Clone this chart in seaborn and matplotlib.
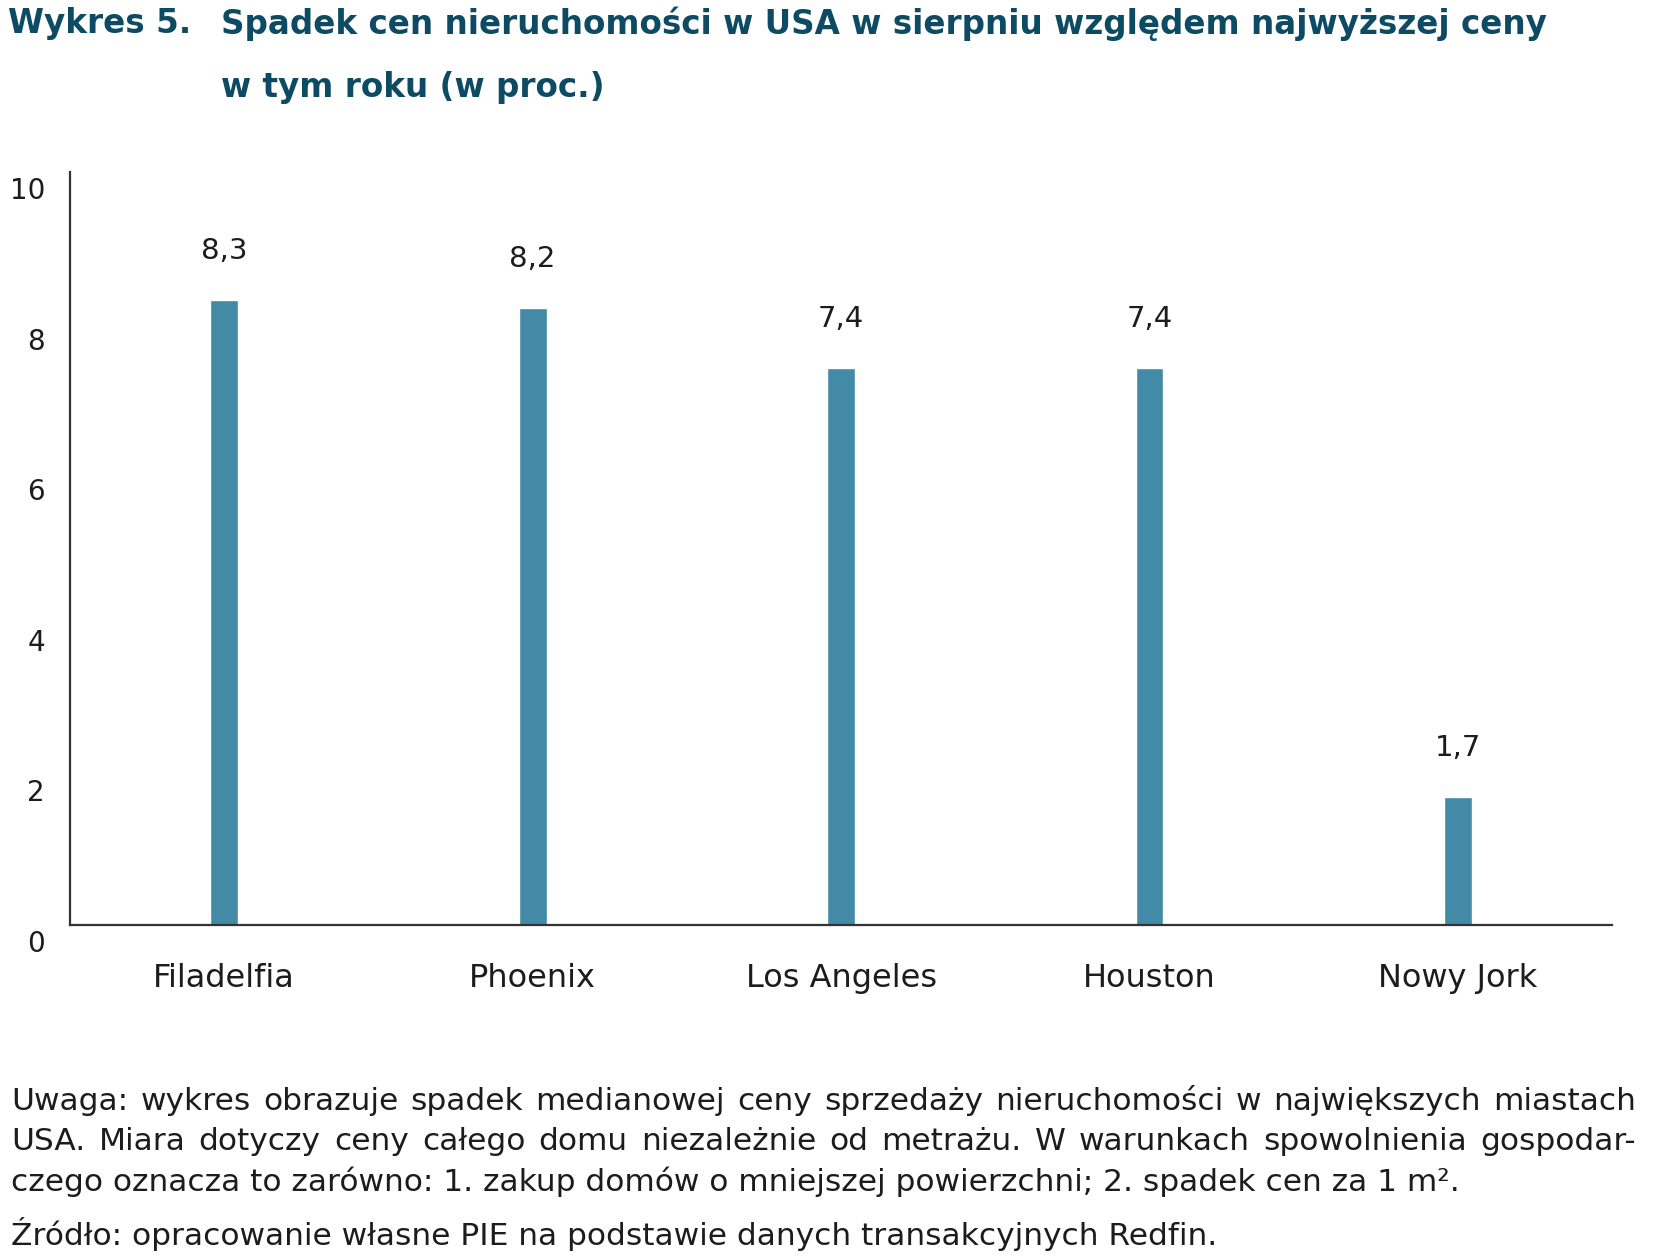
import numpy as np
import pandas as pd
import seaborn as sns
import matplotlib.pyplot as plt
import matplotlib.transforms as mtransforms

cities = ["Filadelfia", "Phoenix", "Los Angeles", "Houston", "Nowy Jork"]
drop_pct = [8.3, 8.2, 7.4, 7.4, 1.7]
y_ticks = [0, 2, 4, 6, 8, 10]

title_num = "Wykres 5."
title_lines = ["Spadek cen nieruchomości w USA w sierpniu względem najwyższej ceny",
               "w tym roku (w proc.)"]
note_lines = [
    "Uwaga: wykres obrazuje spadek medianowej ceny sprzedaży nieruchomości w największych miastach",
    "USA. Miara dotyczy ceny całego domu niezależnie od metrażu. W warunkach spowolnienia gospodar-",
    "czego oznacza to zarówno: 1. zakup domów o mniejszej powierzchni; 2. spadek cen za 1 m².",
]
source = "Źródło: opracowanie własne PIE na podstawie danych transakcyjnych Redfin."

sns.set_style("white")
plt.rcParams['font.family'] = ['DejaVu Sans']

df = pd.DataFrame({"city": cities, "value": drop_pct})

W, H = 1657, 1257
fig = plt.figure(figsize=(W / 100, H / 100), dpi=100)
ax = fig.add_axes([0.0422, 0.2641, 0.9308, 0.5991])

bar_color = "#428aa6"
text_color = "#1c1c1c"
sns.barplot(data=df, x="city", y="value", color=bar_color, width=0.09,
            saturation=1, ax=ax)

ax.set_ylim(0, 10)
ax.set_xlim(-0.5, 4.5)
ax.set_yticks(y_ticks)
ax.set_yticklabels([str(t) for t in y_ticks])
ax.set_xlabel("")
ax.set_ylabel("")
ax.tick_params(axis="y", length=0, pad=18, labelsize=20, labelcolor=text_color)
ax.tick_params(axis="x", length=0, pad=27, labelsize=23, labelcolor=text_color)

# tick labels in the original sit a bit below their value
offset = mtransforms.ScaledTranslation(0, -16 / 100, fig.dpi_scale_trans)
for lbl in ax.get_yticklabels():
    lbl.set_transform(lbl.get_transform() + offset)

for side in ["top", "right"]:
    ax.spines[side].set_visible(False)
for side in ["left", "bottom"]:
    ax.spines[side].set_color("#333333")
    ax.spines[side].set_linewidth(1.6)

labels = [f"{v:.1f}".replace(".", ",") for v in drop_pct]
ax.bar_label(ax.containers[0], labels=labels, padding=25, fontsize=21,
             color=text_color)

# title
title_color = "#0d4a63"
for x, y, s in [(8, 24, title_num), (221, 24, title_lines[0]), (221, 87, title_lines[1])]:
    fig.text(x / W, 1 - y / H, s, fontsize=23.5, fontweight="bold",
             color=title_color, va="center")

# notes - first two lines justified to the full width
fig.canvas.draw()
renderer = fig.canvas.get_renderer()
x0, x1 = 11, 1636
note_fs = 22.5
for i, line in enumerate(note_lines):
    y = 1 - (1102 + i * 40) / H
    if i < 2:
        words = line.split(" ")
        txts = [fig.text(0, y, w, fontsize=note_fs, color=text_color, va="center")
                for w in words]
        widths = [t.get_window_extent(renderer).width for t in txts]
        gap = (x1 - x0 - sum(widths)) / (len(words) - 1)
        xpos = x0
        for t, w in zip(txts, widths):
            t.set_x(xpos / W)
            xpos += w + gap
    else:
        fig.text(x0 / W, y, line, fontsize=note_fs, color=text_color, va="center")
fig.text(x0 / W, 1 - 1234 / H, source, fontsize=note_fs, color=text_color,
         va="center")

fig.savefig("out.png", dpi=100)
